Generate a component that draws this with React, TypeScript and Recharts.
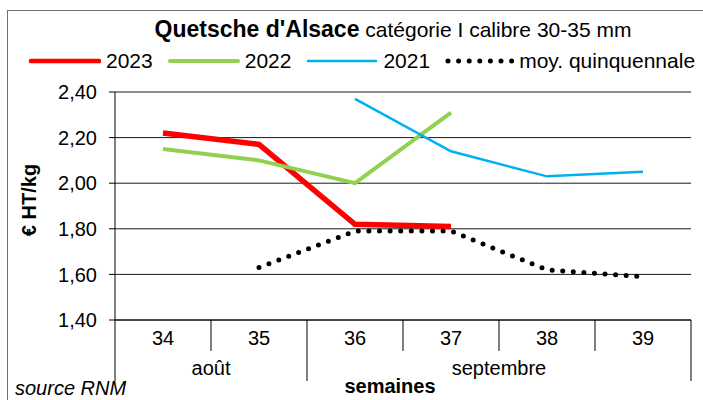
import React from 'react';
import { LineChart, Line, XAxis, YAxis, CartesianGrid, Legend } from 'recharts';

// ---------- data ----------
const weeks = ['34', '35', '36', '37', '38', '39'];
const months = [
  { label: 'août', start: 0, span: 2 },
  { label: 'septembre', start: 2, span: 4 },
];
const s2023 = [2.22, 2.17, 1.82, 1.81, null, null];
const s2022 = [2.15, 2.1, 2.0, 2.31, null, null];
const s2021 = [null, null, 2.37, 2.14, 2.03, 2.05];
const sMoy = [null, 1.63, 1.79, 1.79, 1.62, 1.59];
const yTicks = [1.4, 1.6, 1.8, 2.0, 2.2, 2.4];

const series = [
  { key: 'y2023', name: '2023', color: '#FF0000', width: 5.5, legendWidth: 4.7, dash: undefined as string | undefined },
  { key: 'y2022', name: '2022', color: '#92D050', width: 4, legendWidth: 4, dash: undefined as string | undefined },
  { key: 'y2021', name: '2021', color: '#00B0F0', width: 2.5, legendWidth: 2.5, dash: undefined as string | undefined },
  { key: 'moy', name: 'moy. quinquennale', color: '#000000', width: 5, legendWidth: 5, dash: '0 10.6' },
];

const data = weeks.map((w, i) => ({
  week: w,
  y2023: s2023[i],
  y2022: s2022[i],
  y2021: s2021[i],
  moy: sMoy[i],
}));

// ---------- layout ----------
const W = 703;
const H = 400;
const FONT = "'Liberation Sans', Arial, Helvetica, sans-serif";
const Y_AXIS_W = 115;
const RIGHT = 12;
const LEGEND_H = 30;
const TOP = 62;
const X_AXIS_H = 80;
const STEP = (W - Y_AXIS_W - RIGHT) / weeks.length;

const XTick = (props: any) => {
  const { x, y, payload, index } = props;
  const half = STEP / 2;
  const month = months.find((m) => m.start === index);
  const isLast = index === weeks.length - 1;
  return (
    <g>
      <line x1={x - half} x2={x - half} y1={y} y2={y + (month ? 61 : 31)} stroke="#000" strokeWidth={1} />
      {isLast && <line x1={x + half} x2={x + half} y1={y} y2={y + 61} stroke="#000" strokeWidth={1} />}
      <text x={x} y={y + 25} textAnchor="middle" fontSize={20} fontFamily={FONT} fill="#000">
        {payload.value}
      </text>
      {month && (
        <text x={x - half + (month.span * STEP) / 2} y={y + 55} textAnchor="middle" fontSize={20} fontFamily={FONT} fill="#000">
          {month.label}
        </text>
      )}
    </g>
  );
};

const renderLegend = () => (
  <div
    style={{
      display: 'flex',
      alignItems: 'center',
      height: LEGEND_H,
      paddingLeft: 28,
      fontSize: 21,
      fontFamily: FONT,
      color: '#000',
      whiteSpace: 'nowrap',
    }}
  >
    {series.map((s) => (
      <div key={s.key} style={{ display: 'flex', alignItems: 'center', marginRight: 14 }}>
        <svg width={73} height={10} style={{ display: 'block' }}>
          <line
            x1={s.dash ? 4 : 3}
            x2={s.dash ? 68 : 71}
            y1={5}
            y2={5}
            stroke={s.color}
            strokeWidth={s.legendWidth}
            strokeLinecap="round"
            strokeDasharray={s.dash}
          />
        </svg>
        <span style={{ marginLeft: s.dash ? 2 : 5 }}>{s.name}</span>
      </div>
    ))}
  </div>
);

export default function App() {
  return (
    <div style={{ position: 'absolute', left: 0, top: 0, width: W, height: H, overflow: 'hidden', background: '#fff' }}>
      <div
        style={{
          position: 'absolute',
          left: 7,
          top: 10,
          width: 800,
          height: 500,
          border: '1px solid #707070',
          boxSizing: 'border-box',
        }}
      />
      <div style={{ position: 'absolute', left: 0, top: 0 }}>
        <LineChart width={W} height={H} data={data} margin={{ top: TOP, right: RIGHT, bottom: 0, left: 0 }}>
          <CartesianGrid vertical={false} stroke="#1a1a1a" strokeWidth={1} />
          <Legend
            verticalAlign="top"
            align="left"
            height={LEGEND_H}
            wrapperStyle={{ top: 46, left: 0, width: W }}
            content={renderLegend}
          />
          <XAxis
            dataKey="week"
            interval={0}
            padding={{ left: STEP / 2, right: STEP / 2 }}
            tickLine={false}
            tickSize={0}
            tickMargin={0}
            axisLine={{ stroke: '#000', strokeWidth: 1 }}
            height={X_AXIS_H}
            tick={<XTick />}
            label={{
              content: (p: any) => {
                const vb = p.viewBox || { x: Y_AXIS_W, y: H - X_AXIS_H, width: W - Y_AXIS_W - RIGHT };
                return (
                  <text
                    x={vb.x + vb.width / 2 - 13}
                    y={vb.y + 73}
                    textAnchor="middle"
                    fontSize={20}
                    fontWeight="bold"
                    fontFamily={FONT}
                    fill="#000"
                  >
                    semaines
                  </text>
                );
              },
            }}
          />
          <YAxis
            width={Y_AXIS_W}
            domain={[1.4, 2.4]}
            ticks={yTicks}
            interval={0}
            allowDataOverflow
            tickSize={6}
            tickMargin={12}
            tickLine={{ stroke: '#000' }}
            axisLine={{ stroke: '#000', strokeWidth: 1 }}
            tick={{ fill: '#000', fontSize: 20, fontFamily: FONT }}
            tickFormatter={(v: number) => v.toFixed(2).replace('.', ',')}
            label={{
              content: (p: any) => {
                const vb = p.viewBox || { x: 0, y: TOP + LEGEND_H, height: H - X_AXIS_H - TOP - LEGEND_H };
                const cx = vb.x + 36;
                const cy = vb.y + vb.height / 2 - 6;
                return (
                  <text
                    x={cx}
                    y={cy}
                    transform={`rotate(-90 ${cx} ${cy})`}
                    textAnchor="middle"
                    fontSize={20}
                    fontWeight="bold"
                    fontFamily={FONT}
                    fill="#000"
                  >
                    € HT/kg
                  </text>
                );
              },
            }}
          />
          {series.map((s) => (
            <Line
              key={s.key}
              type="linear"
              dataKey={s.key}
              name={s.name}
              stroke={s.color}
              strokeWidth={s.width}
              strokeDasharray={s.dash}
              strokeLinecap={s.dash ? 'round' : 'butt'}
              dot={false}
              activeDot={false}
              connectNulls={false}
              isAnimationActive={false}
            />
          ))}
        </LineChart>
      </div>
      <svg width={W} height={H} style={{ position: 'absolute', left: 0, top: 0, pointerEvents: 'none' }}>
        <text x={393} y={37} textAnchor="middle" fontFamily={FONT} fill="#000">
          <tspan fontSize={23} fontWeight="bold">Quetsche d'Alsace</tspan>
          <tspan fontSize={21}> catégorie I calibre 30-35 mm</tspan>
        </text>
        <text x={15} y={395} fontSize={20} fontStyle="italic" fontFamily={FONT} fill="#000">
          source RNM
        </text>
      </svg>
    </div>
  );
}
